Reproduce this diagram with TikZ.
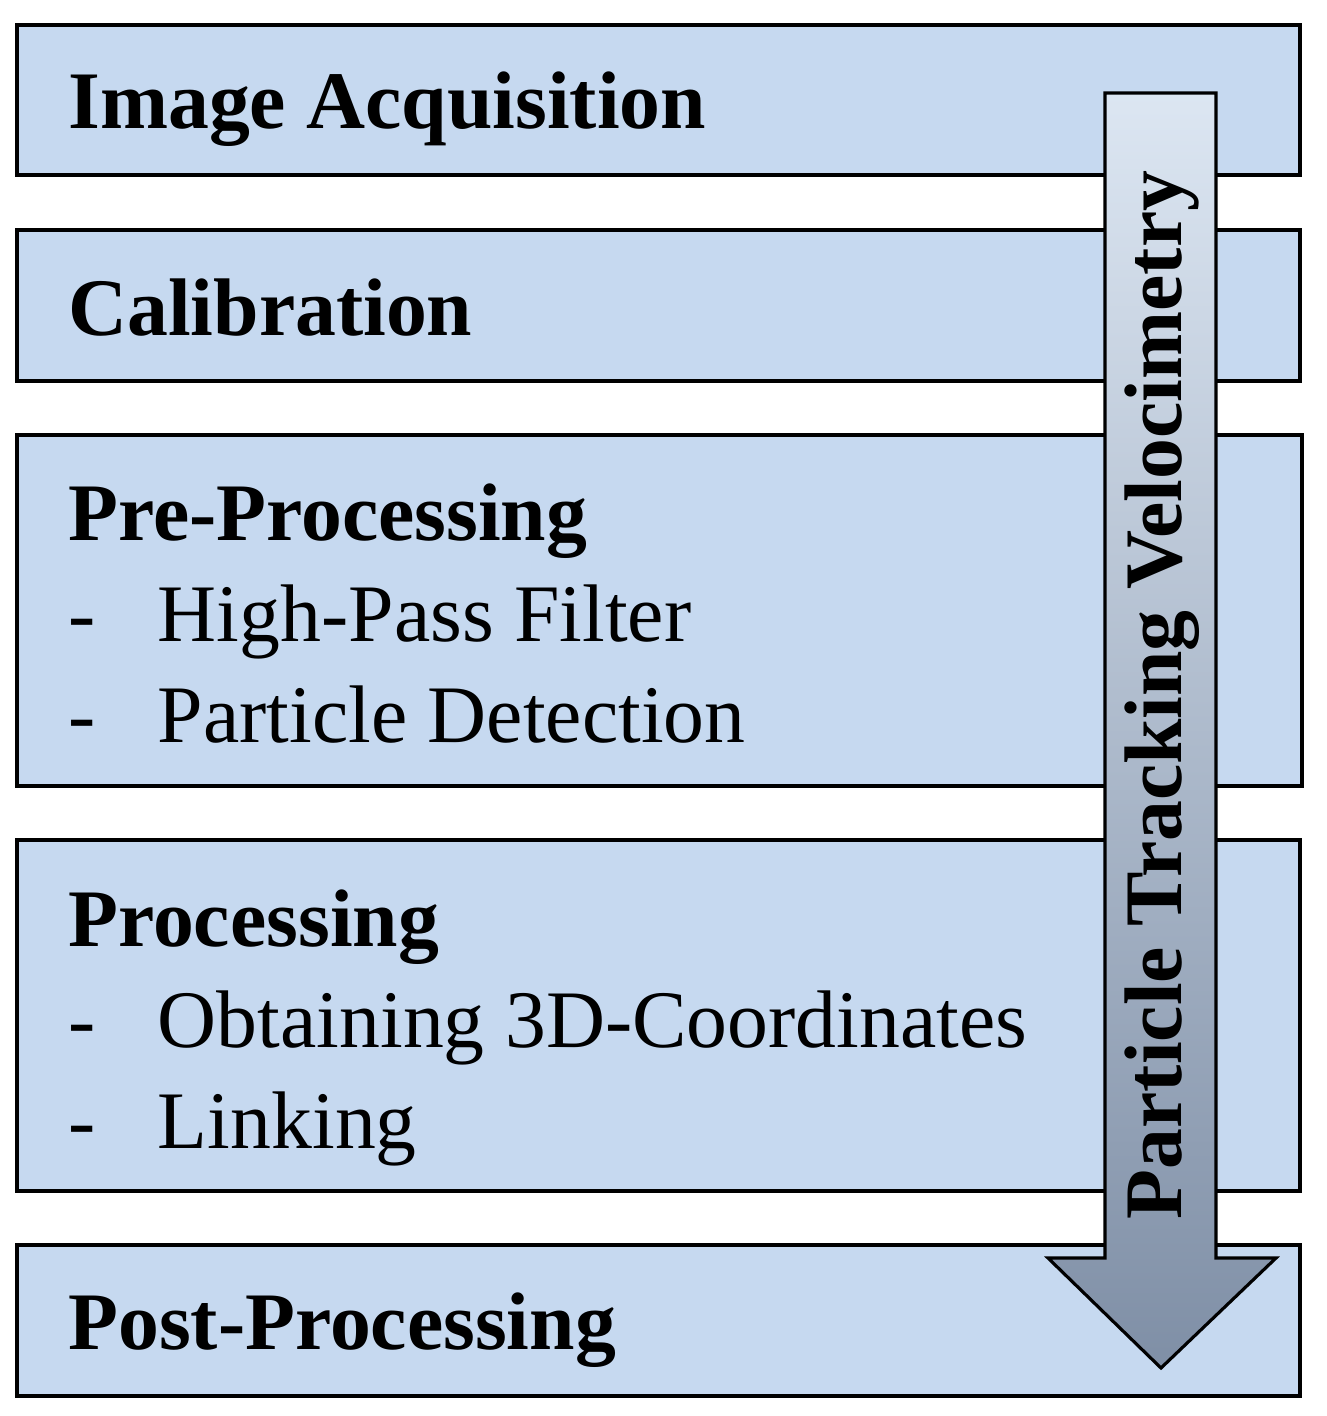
\documentclass[tikz,border=0pt]{standalone}
\usepackage{fontspec}
\setmainfont{Liberation Serif}
\definecolor{boxblue}{HTML}{C6D9F0}
\definecolor{arrtop}{HTML}{DCE6F2}
\definecolor{arrbot}{HTML}{7F8FA6}
\begin{document}
\begin{tikzpicture}[x=0.02cm,y=-0.02cm,
  stage/.style={draw=black,line width=1.8pt,fill=boxblue},
  lbl/.style={anchor=north west,align=left,inner sep=0pt,font=\fontsize{46.5}{57.5}\selectfont}]
\useasboundingbox (0,0) rectangle (1326,1416);
\path[stage] (17,25) rectangle (1300,175) coordinate (b1);
\path[stage] (17,230) rectangle (1300,381) coordinate (b2);
\path[stage] (17,435) rectangle (1302,786) coordinate (b3);
\path[stage] (17,840) rectangle (1300,1191) coordinate (b4);
\path[stage] (17,1245) rectangle (1300,1396) coordinate (b5);
\node[lbl] (t1) at (68,71) {\bfseries Image Acquisition};
\node[lbl] (t2) at (68,278) {\bfseries Calibration};
\node[lbl] (t3) at (68,483) {\bfseries Pre-Processing\\-\hspace{1.25cm}High-Pass Filter\\-\hspace{1.25cm}Particle Detection};
\node[lbl] (t4) at (68,889) {\bfseries Processing\\-\hspace{1.25cm}Obtaining 3D-Coordinates\\-\hspace{1.25cm}Linking};
\node[lbl] (t5) at (68,1292) {\bfseries Post-Processing};
\shade[top color=arrtop,bottom color=arrbot,draw=black,line width=1.8pt]
  (1105,93) -- (1216,93) -- (1216,1258) -- (1276,1258) -- (1161,1368) -- (1048,1258) -- (1105,1258) -- cycle;
\node[rotate=90,font=\fontsize{46.5}{57.5}\selectfont\bfseries,inner sep=0pt] (ptv) at (1162,695) {Particle Tracking Velocimetry};
\end{tikzpicture}
\end{document}
